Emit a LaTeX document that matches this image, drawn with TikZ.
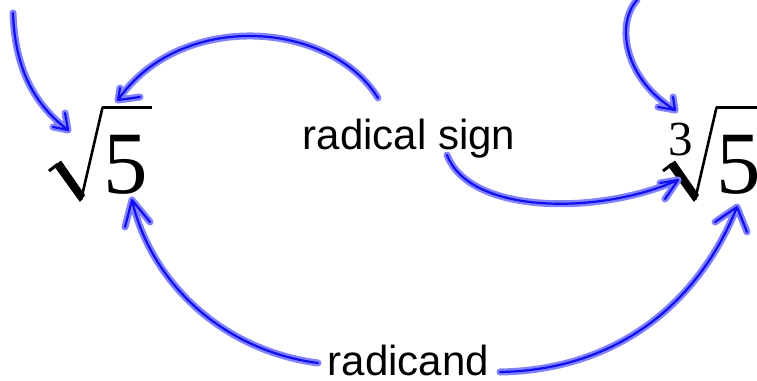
\documentclass[tikz,border=0pt]{standalone}
\usepackage{fontspec}
\setmainfont{Liberation Serif}
\newfontfamily\timesfont{Liberation Serif}
\newfontfamily\arialfont{Liberation Sans}
\definecolor{halo}{RGB}{130,130,255}
\definecolor{ink}{RGB}{15,15,240}
\tikzset{
  hand/.style={draw=ink, line width=2.2pt, line cap=round, line join=round,
    preaction={draw=halo, line width=7pt, line cap=round, line join=round}},
  lbl/.style={font=\arialfont\fontsize{42}{50}\selectfont, inner sep=0pt, anchor=base},
  digit/.style={font=\timesfont\fontsize{89}{100}\selectfont, inner sep=0pt, anchor=base},
  index/.style={font=\timesfont\fontsize{49}{56}\selectfont, inner sep=0pt, anchor=base},
  radline/.style={draw=black, line cap=butt, line join=miter}
}
\begin{document}
\begin{tikzpicture}[x=1pt, y=-1pt]
\useasboundingbox (0,0) rectangle (757,380);
\clip (0,0) rectangle (757,380);
\fill[white] (0,0) rectangle (757,380);

% left radical sqrt 5
\begin{scope}
  \draw[radline, line width=3pt] (49,171) -- (58,164);
  \fill[black] (54,166) -- (61,160.5) -- (85,195) -- (80,202) -- cycle;
  \draw[radline, line width=2.6pt] (81,200) -- (102.5,107.5);
  \draw[radline, line width=3.2pt] (101.5,107.5) -- (152,107.5);
\end{scope}
\node[digit] (fiveL) at (126,193) {5};

% right radical cube root 5
\begin{scope}[xshift=614pt]
  \draw[radline, line width=3pt] (49,171) -- (58,164);
  \fill[black] (54,166) -- (61,160.5) -- (85,195) -- (80,202) -- cycle;
  \draw[radline, line width=2.6pt] (81,200) -- (102.5,107.5);
  \draw[radline, line width=3.2pt] (101.5,107.5) -- (160,107.5);
\end{scope}
\node[digit] (fiveR) at (739,193) {5};
\node[index] (three) at (680.5,155) {3};

% labels
\node[lbl] (rsign) at (409,149) {radical sign};
\node[lbl] (rcand) at (408.5,375) {radicand};

% arrow coordinates
\coordinate (a1s) at (13,13);   \coordinate (a1t) at (68,130);
\coordinate (a2s) at (378,98);  \coordinate (a2t) at (118,100);
\coordinate (a3s) at (447,155); \coordinate (a3t) at (678,180);
\coordinate (a4s) at (637,0);   \coordinate (a4t) at (675,110);
\coordinate (a5s) at (318,363); \coordinate (a5t) at (132,200);
\coordinate (a6s) at (500,372); \coordinate (a6t) at (737,207);

% arrows
\draw[hand] (a1s) .. controls (15,70) and (35,105) .. (a1t)
  (a1t) -- (53,127) (a1t) -- (65,113);
\draw[hand] (a2s) .. controls (330,20) and (180,10) .. (a2t)
  (a2t) -- (120,88) (a2t) -- (140,97);
\draw[hand] (a3s) .. controls (470,215) and (600,215) .. (a3t)
  (a3t) -- (660,183) (a3t) -- (665,199);
\draw[hand] (a4s) .. controls (615,25) and (625,80) .. (a4t)
  (a4t) -- (673,97) (a4t) -- (658,107);
\draw[hand] (a5s) .. controls (220,350) and (150,280) .. (a5t)
  (a5t) -- (125,227) (a5t) -- (150,222);
\draw[hand] (a6s) .. controls (620,370) and (700,300) .. (a6t)
  (a6t) -- (715,222) (a6t) -- (747,232);
\end{tikzpicture}
\end{document}
